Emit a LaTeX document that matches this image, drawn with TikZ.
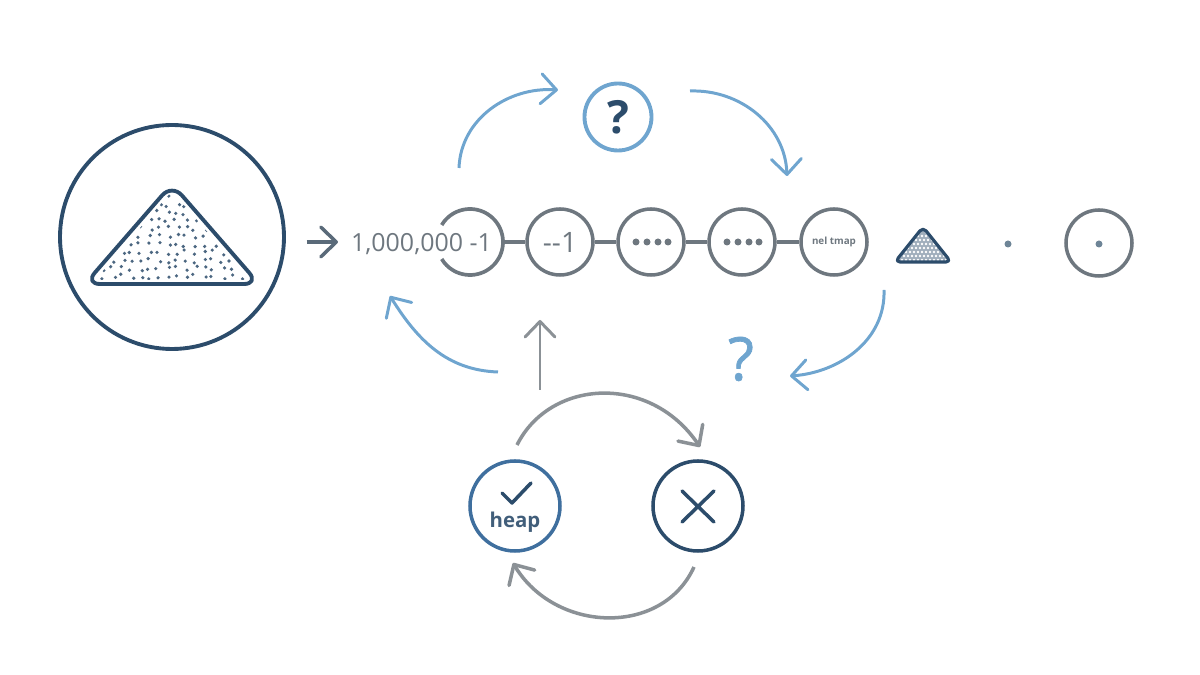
\documentclass[tikz,border=0pt]{standalone}
\usepackage{fontspec}
\setmainfont{Open Sans}
\newfontfamily\askfont[FakeBold=1.2]{Open Sans}
\usetikzlibrary{arrows.meta}
\definecolor{navy}{HTML}{2C4C6B}
\definecolor{steel}{HTML}{3F6F9E}
\definecolor{sky}{HTML}{6FA5CF}
\definecolor{slate}{HTML}{6E777F}
\definecolor{ash}{HTML}{8B9196}
\tikzset{
  stage/.style={circle,draw=slate,line width=1pt,minimum size=0.66cm,inner sep=0pt,text=slate,font=\fontsize{7}{8}\selectfont},
  flow/.style={->,sky,line width=0.85pt},
  swap/.style={->,ash,line width=1pt},
  link/.style={slate,line width=1.05pt},
  pip/.style={circle,fill=slate,inner sep=0pt,minimum size=0.07cm}
}
\begin{document}
\begin{tikzpicture}[>={Straight Barb[length=4.4pt,width=8.5pt,round]}]
  \useasboundingbox (0,0) rectangle (12,6.75);
  % big pile
  \node[circle,draw=navy,line width=1.1pt,minimum size=2.24cm,inner sep=0pt] (pile) at (1.72,4.38) {};
  \begin{scope}
    \clip (0.95,3.95) -- (1.72,4.84) -- (2.49,3.95) -- cycle;
    \pgfmathsetseed{5}
    \foreach \i in {0,...,10}
      \foreach \j in {0,...,17}
        \fill[navy!85] ({0.95+\j*0.091+0.03*rand},{3.985+\i*0.08+0.025*rand}) circle (0.018);
  \end{scope}
  \draw[navy,line width=1.1pt,rounded corners=0.15cm,line join=round] (0.85,3.91) -- (1.72,4.91) -- (2.59,3.91) -- cycle;
  \node[draw=none,inner sep=0pt,minimum size=0pt] (in) at (3.06,4.33) {};
  \coordinate (ine) at (3.38,4.33);
  \draw[->,slate!70!navy,line width=1pt] (in) -- (ine);
  % chain
  \node[stage,draw=none] (c1) at (4.70,4.33) {};
  \draw[link] (c1) ++(149:0.33) arc (149:-149:0.33);
  \node[stage] (c2) at (5.60,4.33) {\fontsize{8}{9}\selectfont\raisebox{-0.6pt}{-{}-1}};
  \node[stage] (c3) at (6.51,4.33) {};
  \node[stage] (c4) at (7.42,4.33) {};
  \node[stage] (c5) at (8.34,4.33) {\fontsize{2.8}{4}\selectfont\bfseries nel tmap};
  \node[text=slate,font=\fontsize{7.1}{9}\selectfont] (start) at (4.215,4.31) {1,000,000 -1};
  \draw[link] (c1) -- (c2);
  \draw[link] (c2) -- (c3);
  \draw[link] (c3) -- (c4);
  \draw[link] (c4) -- (c5);
  \foreach \x in {6.36,6.47,6.58,6.68,7.27,7.38,7.49,7.59}
    \node[pip] at (\x,4.33) {};
  % small pile and last stage
  \begin{scope}
    \clip (8.97,4.13) -- (9.23,4.46) -- (9.49,4.13) -- cycle;
    \fill[navy!45] (8.97,4.13) rectangle (9.49,4.46);
    \foreach \i in {0,...,6}
      \foreach \j in {0,...,12}
        \fill[white] ({8.98+\j*0.04+mod(\i,2)*0.02},{4.15+\i*0.04}) circle (0.013);
  \end{scope}
  \draw[navy,line width=0.9pt,rounded corners=0.05cm,line join=round] (8.95,4.13) -- (9.23,4.48) -- (9.51,4.13) -- cycle;
  \node[pip,fill=slate!70!sky] (lone) at (10.08,4.31) {};
  \node[stage] (c6) at (10.99,4.32) {};
  \node[pip,fill=slate!70!sky] (lonein) at (10.99,4.31) {};
  % question on top
  \node[circle,draw=sky,line width=1.1pt,minimum size=0.67cm,inner sep=0pt,text=navy,font=\fontsize{13}{15}\selectfont\bfseries] (ask) at (6.18,5.58) {?};
  \coordinate (a1) at (4.59,5.07);
  \coordinate (a2) at (5.58,5.85);
  \coordinate (a3) at (6.90,5.84);
  \coordinate (a4) at (7.87,4.99);
  \coordinate (a5) at (8.84,3.85);
  \coordinate (a6) at (7.90,2.99);
  \coordinate (a7) at (4.98,3.03);
  \coordinate (a8) at (3.90,3.79);
  \draw[flow] (a1) to[out=88,in=176] (a2);
  \draw[flow] (a3) to[out=2,in=92] (a4);
  \draw[flow] (a5) to[out=-88,in=4] (a6);
  \draw[flow] (a7) to[out=178,in=-58] (a8);
  \node[text=sky,font=\fontsize{17}{19}\askfont] (ask2) at (7.41,3.16) {?};
  % up arrow
  \coordinate (u1) at (5.40,2.85);
  \coordinate (u2) at (5.40,3.55);
  \draw[->,ash,line width=0.85pt] (u1) -- (u2);
  % heap cycle
  \node[circle,draw=steel,line width=1pt,minimum size=0.90cm,inner sep=0pt] (yes) at (5.15,1.69) {};
  \node[circle,draw=navy,line width=1pt,minimum size=0.90cm,inner sep=0pt] (no) at (6.98,1.69) {};
  \node[text=navy!90,font=\fontsize{5.8}{7}\selectfont\bfseries] (heap) at (5.15,1.53) {heap};
  \draw[navy,line width=1pt,line cap=round,line join=round] (5.02,1.82) -- (5.12,1.72) -- (5.31,1.92);
  \draw[navy,line width=1pt,line cap=round] (6.82,1.84) -- (7.14,1.53) (6.82,1.53) -- (7.14,1.84);
  \coordinate (s1) at (5.17,2.30);
  \coordinate (s2) at (7.00,2.28);
  \coordinate (s3) at (6.94,1.08);
  \coordinate (s4) at (5.13,1.12);
  \draw[swap] (s1) .. controls (5.50,2.96) and (6.50,3.02) .. (s2);
  \draw[swap] (s3) .. controls (6.62,0.38) and (5.55,0.42) .. (s4);
\end{tikzpicture}
\end{document}
